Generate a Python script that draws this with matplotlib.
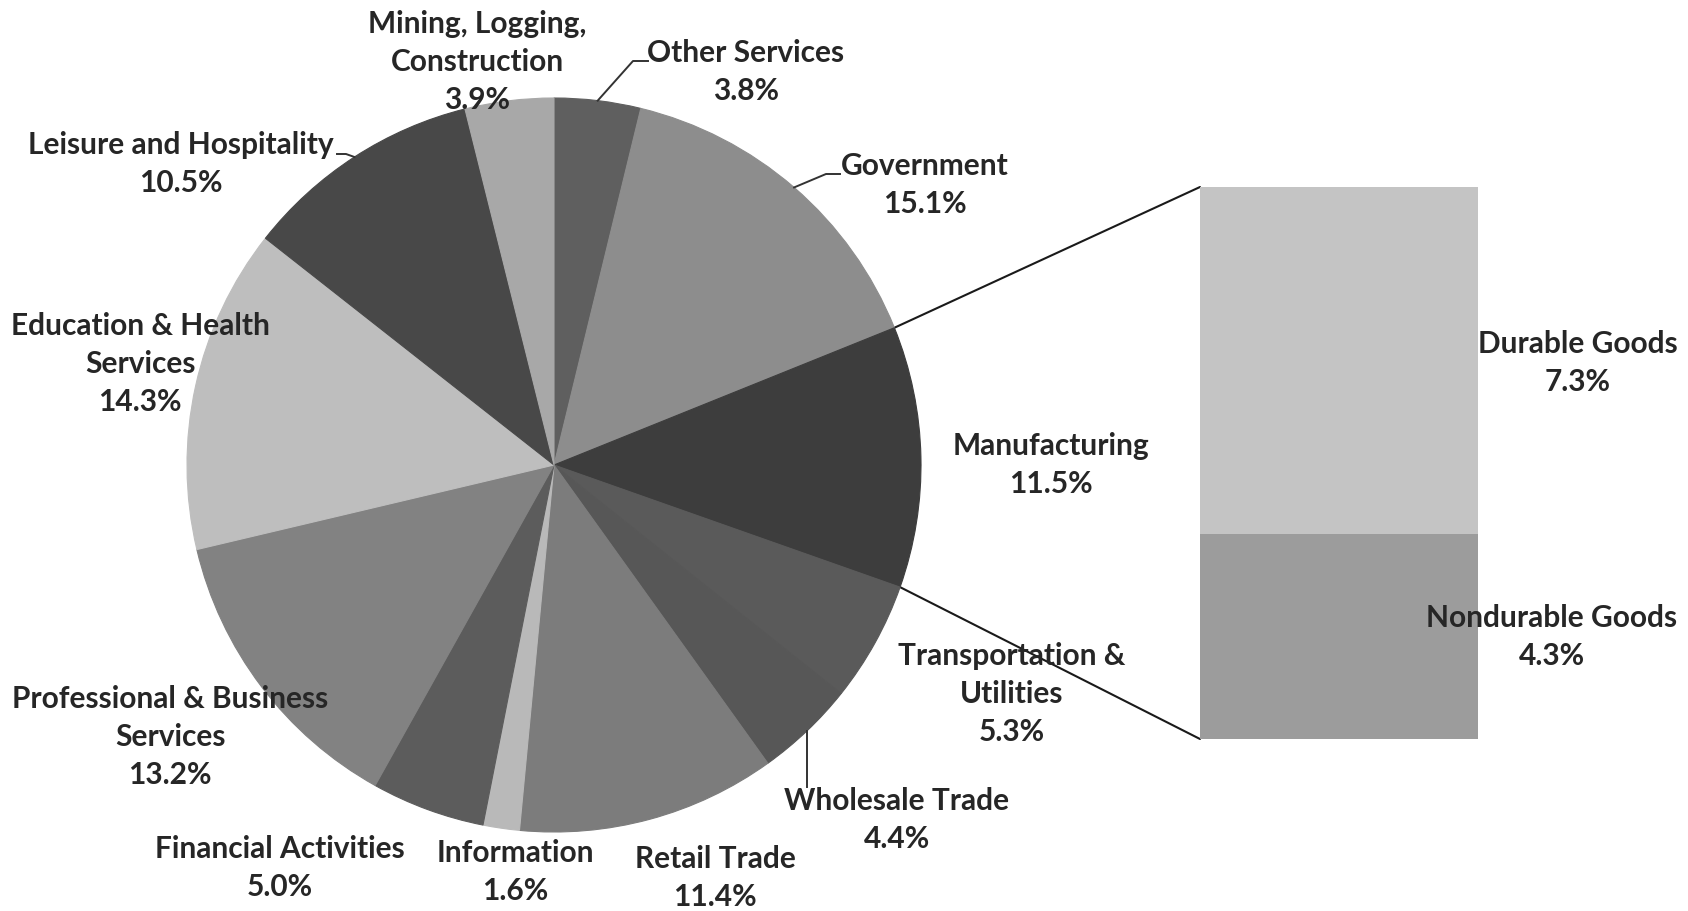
import numpy as np
import matplotlib
matplotlib.use("Agg")
import matplotlib.pyplot as plt
from matplotlib.patches import ConnectionPatch

# employment shares by sector (clockwise from 12 o'clock)
sectors = ["Other Services", "Government", "Manufacturing", "Transportation &\nUtilities",
           "Wholesale Trade", "Retail Trade", "Information", "Financial Activities",
           "Professional & Business\nServices", "Education & Health\nServices",
           "Leisure and Hospitality", "Mining, Logging,\nConstruction"]
shares = [3.8, 15.1, 11.5, 5.3, 4.4, 11.4, 1.6, 5.0, 13.2, 14.3, 10.5, 3.9]
sector_colors = ["#5f5f5f", "#8d8d8d", "#3d3d3d", "#5a5a5a", "#575757", "#7c7c7c",
                 "#b9b9b9", "#5c5c5c", "#828282", "#bebebe", "#484848", "#a8a8a8"]

# manufacturing breakdown (bottom to top)
mfg_parts = ["Nondurable Goods", "Durable Goods"]
mfg_shares = [4.3, 7.3]
mfg_colors = ["#9c9c9c", "#c4c4c4"]

W, H = 1688, 912
TXT = "#262626"
FS = 21.5
LS = 1.43
plt.rcParams["font.family"] = ["Lato", "DejaVu Sans"]

fig = plt.figure(figsize=(W / 100, H / 100), dpi=100)

# bar of manufacturing breakdown (drawn below the main axes)
bx0, bx1, by0, by1 = 1200, 1478, 188, 740
ax2 = fig.add_axes([bx0 / W, (H - by1) / H, (bx1 - bx0) / W, (by1 - by0) / H])
ax2.set_zorder(1)
total = sum(mfg_shares)
bottoms = np.concatenate([[0], np.cumsum(mfg_shares)[:-1]])
ax2.bar([0] * len(mfg_shares), mfg_shares, bottom=bottoms, width=1.0,
        color=mfg_colors, linewidth=0)
ax2.set_xlim(-0.5, 0.5)
ax2.set_ylim(0, total)
ax2.axis("off")

ax = fig.add_axes([0, 0, 1, 1])
ax.set_zorder(2)
ax.patch.set_visible(False)

cx, cy, R = 554, H - 466, 367
wedges, _ = ax.pie(shares, colors=sector_colors, startangle=90, counterclock=False,
                   radius=R, center=(cx, cy))
for w in wedges:
    w.set_edgecolor(w.get_facecolor())
    w.set_linewidth(0.8)
ax.set_xlim(0, W)
ax.set_ylim(0, H)
ax.set_aspect("equal")
ax.axis("off")


def edge_point(w, theta=None):
    if theta is None:
        theta = 0.5 * (w.theta1 + w.theta2)
    t = np.deg2rad(theta)
    return cx + R * np.cos(t), cy + R * np.sin(t)


# label centres in pixels from top-left
label_pos = [(746, 72), (925, 185), (1051, 465), (1012, 694), (897, 820), (715, 878),
             (515, 872), (280, 868), (170, 737), (140, 364), (181, 164), (477, 62)]
for name, val, (lx, ly) in zip(sectors, shares, label_pos):
    ax.text(lx, H - ly, f"{name}\n{val:.1f}%", ha="center", va="center",
            fontsize=FS, fontweight="bold", color=TXT, linespacing=LS, zorder=5)

# leader lines
lk = dict(color="#333333", lw=1.4, zorder=4)
ex, ey = edge_point(wedges[0])
ax.plot([ex, 633, 648], [ey, H - 62, H - 62], **lk)
ex, ey = edge_point(wedges[1])
ax.plot([ex, 826, 840], [ey, H - 175, H - 175], **lk)
ex, ey = edge_point(wedges[10])
ax.plot([ex, 346, 337], [ey, H - 155, H - 155], **lk)
ex, ey = edge_point(wedges[4])
ax.plot([ex, ex], [ey, H - 788], **lk)

bar_label_pos = [(1552, 637), (1578, 363)]
for name, val, (lx, ly) in zip(mfg_parts, mfg_shares, bar_label_pos):
    ax.text(lx, H - ly, f"{name}\n{val:.1f}%", ha="center", va="center",
            fontsize=FS, fontweight="bold", color=TXT, linespacing=LS, zorder=5)

# connector lines from the manufacturing slice to the bar
mfg = wedges[2]
for theta, ybar in [(mfg.theta2, total), (mfg.theta1, 0)]:
    con = ConnectionPatch(xyA=(-0.5, ybar), coordsA=ax2.transData,
                          xyB=edge_point(mfg, theta), coordsB=ax.transData,
                          color="#1a1a1a", lw=1.5)
    fig.add_artist(con)

fig.savefig("out.png", dpi=100, facecolor="white")
